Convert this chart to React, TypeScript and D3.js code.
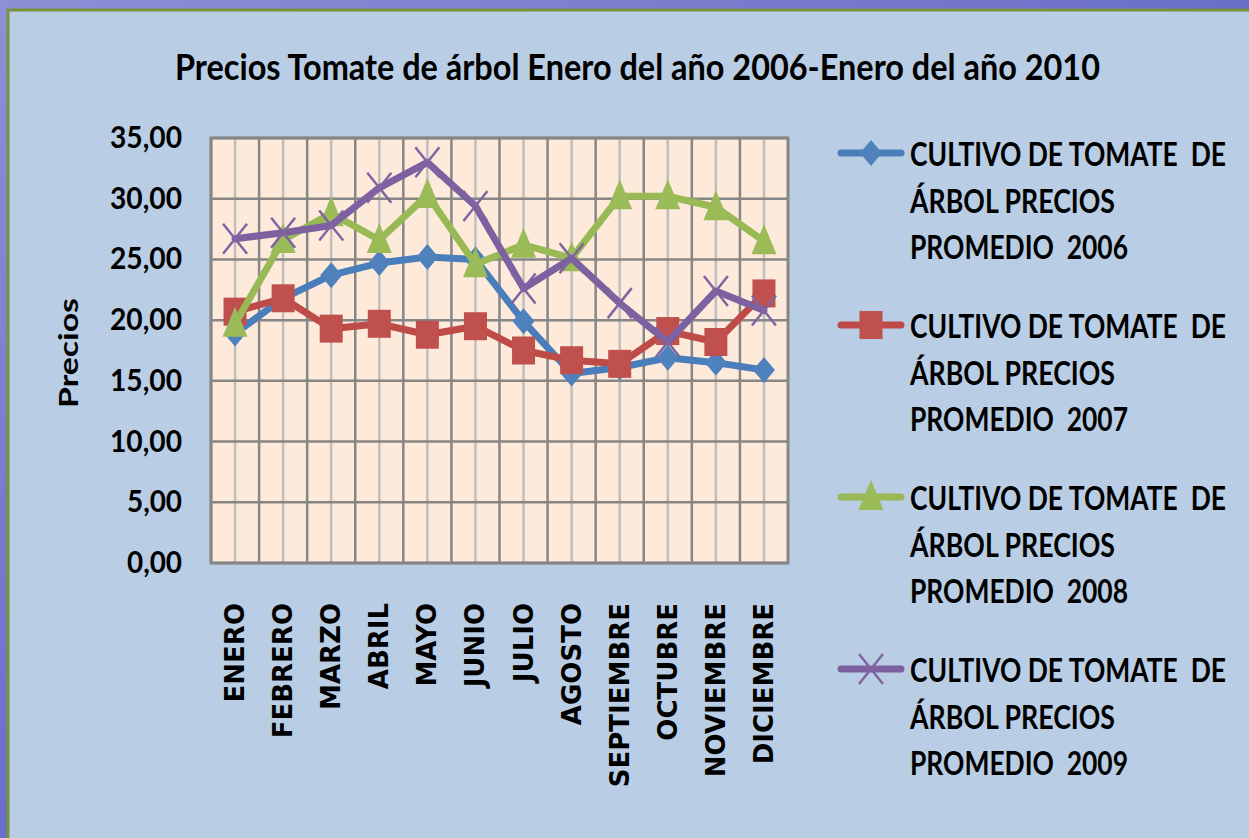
import * as d3 from "d3";

const months = ["ENERO", "FEBRERO", "MARZO", "ABRIL", "MAYO", "JUNIO", "JULIO", "AGOSTO", "SEPTIEMBRE", "OCTUBRE", "NOVIEMBRE", "DICIEMBRE"];
const precios2006 = [18.9, 21.8, 23.7, 24.7, 25.2, 25.0, 19.9, 15.6, 16.1, 16.9, 16.5, 15.9];
const precios2007 = [20.7, 21.8, 19.3, 19.7, 18.8, 19.5, 17.5, 16.7, 16.4, 19.1, 18.2, 22.2];
const precios2008 = [19.7, 26.6, 28.8, 26.6, 30.3, 24.6, 26.2, 25.1, 30.2, 30.2, 29.3, 26.5];
const precios2009 = [26.7, 27.2, 27.8, 30.9, 33.0, 29.4, 22.6, 25.1, 21.4, 18.2, 22.4, 20.8];
const yTicks = [0, 5, 10, 15, 20, 25, 30, 35];
const years = ["2006", "2007", "2008", "2009"];

const series = [
  { values: precios2006, line: "#4A7EBB", fill: "#4F81BD", marker: "diamond" },
  { values: precios2007, line: "#BE4B48", fill: "#C0504D", marker: "square" },
  { values: precios2008, line: "#98B954", fill: "#9BBB59", marker: "triangle" },
  { values: precios2009, line: "#7D60A0", fill: "#8064A2", marker: "x" },
];

const W = 1249;
const H = 838;
const plot = { left: 211, right: 788, top: 138, bottom: 563 };
const font = "Lato, 'Open Sans', sans-serif";

function Marker({ kind, x, y, color }) {
  if (kind === "diamond") {
    return <path d={`M${x},${y - 13}L${x + 11},${y}L${x},${y + 13}L${x - 11},${y}Z`} fill={color} />;
  }
  if (kind === "square") {
    return <rect x={x - 11.5} y={y - 14} width={23} height={28} fill={color} />;
  }
  if (kind === "triangle") {
    return <path d={`M${x},${y - 17}L${x + 12.5},${y + 13}L${x - 12.5},${y + 13}Z`} fill={color} />;
  }
  return (
    <path
      d={`M${x - 12},${y - 15}L${x + 12},${y + 15}M${x + 12},${y - 15}L${x - 12},${y + 15}`}
      stroke={color}
      strokeWidth={2.5}
      fill="none"
    />
  );
}

// texto de la leyenda, algo estirado en vertical como en la imagen
function LegendText({ x, y, width, children }) {
  return (
    <text
      transform={`translate(${x},${y}) scale(1,1.2)`}
      fontFamily={font}
      fontWeight={700}
      fontSize={27}
      textLength={width}
      lengthAdjust="spacingAndGlyphs"
      style={{ whiteSpace: "pre" }}
    >
      {children}
    </text>
  );
}

export default function App() {
  const x = d3.scaleBand().domain(months).range([plot.left, plot.right]).padding(0);
  const bw = x.bandwidth();
  const cx = (m) => x(m) + bw / 2;
  const y = d3.scaleLinear().domain([0, 35]).range([plot.bottom, plot.top]);
  const fmt = (v) => d3.format(".2f")(v).replace(".", ",");

  const lineGen = d3
    .line()
    .x((d) => cx(d[0]))
    .y((d) => y(d[1]));

  return (
    <svg width={W} height={H} style={{ position: "absolute", left: 0, top: 0 }}>
      <defs>
        <linearGradient id="bg" x1="0" y1="0" x2="1" y2="1">
          <stop offset="0" stopColor="#8C90D6" />
          <stop offset="1" stopColor="#4A4CB8" />
        </linearGradient>
      </defs>
      <rect x={0} y={0} width={W} height={H} fill="url(#bg)" />
      <rect x={8} y={10} width={W + 20} height={H + 20} fill="#B9CDE5" stroke="#77933C" strokeWidth={3} />

      {/* título */}
      <text x={175} y={80} fontFamily={font} fontWeight={700} fontSize={37} textLength={925} lengthAdjust="spacingAndGlyphs">
        Precios Tomate de árbol Enero del año 2006-Enero del año 2010
      </text>

      {/* área del gráfico */}
      <rect x={plot.left} y={plot.top} width={plot.right - plot.left} height={plot.bottom - plot.top} fill="#FDEADA" />
      {months.map((m) => (
        <line key={"c" + m} x1={cx(m)} x2={cx(m)} y1={plot.top} y2={plot.bottom} stroke="#BFBFBF" strokeWidth={2.5} />
      ))}
      {months.map((m) => (
        <line key={"b" + m} x1={x(m)} x2={x(m)} y1={plot.top} y2={plot.bottom} stroke="#868686" strokeWidth={2.5} />
      ))}
      {yTicks.map((t) => (
        <line key={"h" + t} x1={plot.left} x2={plot.right} y1={y(t)} y2={y(t)} stroke="#868686" strokeWidth={2.5} />
      ))}
      <rect
        x={plot.left}
        y={plot.top}
        width={plot.right - plot.left}
        height={plot.bottom - plot.top}
        fill="none"
        stroke="#868686"
        strokeWidth={3}
      />

      {/* eje Y */}
      {yTicks.map((t) => (
        <text
          key={"y" + t}
          x={182}
          y={y(t) + 10}
          textAnchor="end"
          fontFamily={font}
          fontWeight={700}
          fontSize={30}
          textLength={fmt(t).length === 5 ? 72 : 55}
          lengthAdjust="spacingAndGlyphs"
        >
          {fmt(t)}
        </text>
      ))}
      <text
        transform={`translate(78,353) rotate(-90)`}
        textAnchor="middle"
        fontFamily={font}
        fontWeight={700}
        fontSize={27}
        textLength={110}
        lengthAdjust="spacingAndGlyphs"
      >
        Precios
      </text>

      {/* eje X */}
      {months.map((m) => (
        <text
          key={"x" + m}
          transform={`translate(${cx(m) + 9},603) rotate(-90)`}
          textAnchor="end"
          fontFamily="'DejaVu Sans', Verdana, sans-serif"
          fontWeight={700}
          fontSize={26}
        >
          {m}
        </text>
      ))}

      {/* series */}
      {series.map((s, i) => (
        <g key={"s" + i}>
          <path
            d={lineGen(months.map((m, j) => [m, s.values[j]]))}
            fill="none"
            stroke={s.line}
            strokeWidth={7}
            strokeLinejoin="round"
            strokeLinecap="round"
          />
          {months.map((m, j) => (
            <Marker key={j} kind={s.marker} x={cx(m)} y={y(s.values[j])} color={s.fill} />
          ))}
        </g>
      ))}

      {/* leyenda */}
      {series.map((s, i) => {
        const my = 153 + 172 * i;
        return (
          <g key={"l" + i}>
            <line x1={841} x2={901} y1={my} y2={my} stroke={s.line} strokeWidth={7} strokeLinecap="round" />
            <Marker kind={s.marker} x={871} y={my} color={s.fill} />
            <LegendText x={910} y={my + 13} width={316}>
              {"CULTIVO DE TOMATE  DE"}
            </LegendText>
            <LegendText x={910} y={my + 60} width={205}>
              {"ÁRBOL PRECIOS"}
            </LegendText>
            <LegendText x={910} y={my + 106} width={218}>
              {"PROMEDIO  " + years[i]}
            </LegendText>
          </g>
        );
      })}
    </svg>
  );
}
